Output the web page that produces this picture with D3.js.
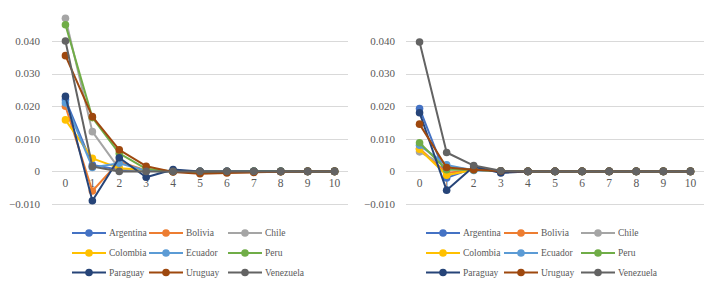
<!DOCTYPE html>
<html>
<head>
<meta charset="utf-8">
<script src="https://cdn.jsdelivr.net/npm/d3@7"></script>
<style>
  body { margin: 0; background: #fff; }
  svg text { font-family: "Liberation Serif", "Times New Roman", serif; }
</style>
</head>
<body>
<div id="chart"></div>
<script>
// ---------- data ----------
const lags = [0, 1, 2, 3, 4, 5, 6, 7, 8, 9, 10];
const countries = ["Argentina", "Bolivia", "Chile", "Colombia", "Ecuador", "Peru", "Paraguay", "Uruguay", "Venezuela"];
const colors = ["#4472C4", "#ED7D31", "#A5A5A5", "#FFC000", "#5B9BD5", "#70AD47", "#264478", "#9E480E", "#636363"];
const yTicks = [-0.010, 0, 0.010, 0.020, 0.030, 0.040];

// left panel
const leftArgentina = [0.0220, 0.0020, 0.0005, 0.0002, 0, 0, 0, 0, 0, 0, 0];
const leftBolivia   = [0.0200, -0.0060, 0.0030, 0.0003, 0, -0.0003, -0.0002, 0, 0, 0, 0];
const leftChile     = [0.0470, 0.0122, 0.0008, 0.0002, 0, 0, 0, 0, 0, 0, 0];
const leftColombia  = [0.0158, 0.0040, 0.0010, 0.0005, 0, 0, 0, 0, 0, 0, 0];
const leftEcuador   = [0.0210, 0.0012, 0.0025, 0.0002, 0, 0, 0, 0, 0, 0, 0];
const leftPeru      = [0.0450, 0.0165, 0.0055, 0.0008, 0, -0.0003, -0.0002, 0, 0, 0, 0];
const leftParaguay  = [0.0230, -0.0090, 0.0042, -0.0018, 0.0006, 0, 0, 0, 0, 0, 0];
const leftUruguay   = [0.0355, 0.0168, 0.0066, 0.0016, -0.0002, -0.0007, -0.0005, -0.0003, -0.0001, 0, 0];
const leftVenezuela = [0.0400, 0.0015, 0.0000, 0.0000, 0, 0, 0, 0, 0, 0, 0];

// right panel
const rightArgentina = [0.0193, -0.0020, 0.0010, 0.0001, 0, 0, 0, 0, 0, 0, 0];
const rightBolivia   = [0.0070, -0.0005, 0.0005, 0.0001, 0, 0, 0, 0, 0, 0, 0];
const rightChile     = [0.0060, 0.0015, 0.0005, 0.0001, 0, 0, 0, 0, 0, 0, 0];
const rightColombia  = [0.0068, -0.0012, 0.0005, 0.0001, 0, 0, 0, 0, 0, 0, 0];
const rightEcuador   = [0.0080, 0.0020, 0.0003, 0.0001, 0, 0, 0, 0, 0, 0, 0];
const rightPeru      = [0.0088, 0.0005, 0.0005, 0.0001, 0, 0, 0, 0, 0, 0, 0];
const rightParaguay  = [0.0180, -0.0058, 0.0015, -0.0005, 0, 0, 0, 0, 0, 0, 0];
const rightUruguay   = [0.0145, 0.0012, 0.0005, 0.0001, 0, 0, 0, 0, 0, 0, 0];
const rightVenezuela = [0.0397, 0.0058, 0.0018, 0.0002, 0, 0, 0, 0, 0, 0, 0];

const leftSeries = [leftArgentina, leftBolivia, leftChile, leftColombia, leftEcuador, leftPeru, leftParaguay, leftUruguay, leftVenezuela];
const rightSeries = [rightArgentina, rightBolivia, rightChile, rightColombia, rightEcuador, rightPeru, rightParaguay, rightUruguay, rightVenezuela];

// ---------- layout ----------
const width = 718, height = 289;
const textColor = "#595959";

const svg = d3.select("#chart").append("svg")
  .attr("width", width)
  .attr("height", height);

svg.append("rect").attr("width", width).attr("height", height).attr("fill", "#fff");

function drawPanel(series, opt) {
  const g = svg.append("g");

  const x = d3.scaleBand().domain(lags).range([opt.x0, opt.x1]);
  const y = d3.scaleLinear().domain([-0.010, 0.040]).range([204, 41]);
  const cx = d => x(d) + x.bandwidth() / 2;

  // gridlines
  g.selectAll(".grid").data(yTicks).enter().append("line")
    .attr("x1", opt.x0).attr("x2", opt.x1)
    .attr("y1", d => Math.round(y(d)) + 0.5).attr("y2", d => Math.round(y(d)) + 0.5)
    .attr("stroke", "#d9d9d9").attr("stroke-width", 1);

  // y labels
  g.selectAll(".ylab").data(yTicks).enter().append("text")
    .attr("x", opt.yLabelX)
    .attr("y", d => y(d))
    .attr("dy", "0.35em")
    .attr("text-anchor", "end")
    .attr("font-size", 11).attr("fill", textColor)
    .text(d => d === 0 ? "0" : (d < 0 ? "\u22120.010" : d3.format(".3f")(d)));

  // x labels
  g.selectAll(".xlab").data(lags).enter().append("text")
    .attr("x", d => cx(d))
    .attr("y", y(0) + 12)
    .attr("dy", "0.35em")
    .attr("text-anchor", "middle")
    .attr("font-size", 11.5).attr("fill", textColor)
    .text(d => d);

  const line = d3.line().x((d, i) => cx(lags[i])).y(d => y(d));

  series.forEach((vals, k) => {
    g.append("path")
      .attr("d", line(vals))
      .attr("fill", "none")
      .attr("stroke", colors[k])
      .attr("stroke-width", 2)
      .attr("stroke-linejoin", "round");
    g.selectAll(null).data(vals).enter().append("circle")
      .attr("cx", (d, i) => cx(lags[i]))
      .attr("cy", d => y(d))
      .attr("r", 3.8)
      .attr("fill", colors[k]);
  });

  // legend
  const rowY = [233, 253, 272.5];
  countries.forEach((c, k) => {
    const lx = opt.legendX[k % 3];
    const ly = rowY[Math.floor(k / 3)];
    g.append("line")
      .attr("x1", lx).attr("x2", lx + 34)
      .attr("y1", ly).attr("y2", ly)
      .attr("stroke", colors[k]).attr("stroke-width", 2);
    g.append("circle")
      .attr("cx", lx + 17).attr("cy", ly).attr("r", 3.8)
      .attr("fill", colors[k]);
    g.append("text")
      .attr("x", lx + 37).attr("y", ly)
      .attr("dy", "0.35em")
      .attr("font-size", 9.5).attr("fill", textColor)
      .text(c);
  });
}

drawPanel(leftSeries, { x0: 52, x1: 348, yLabelX: 40, legendX: [72, 149, 228] });
drawPanel(rightSeries, { x0: 406, x1: 704, yLabelX: 395, legendX: [426, 504, 581] });
</script>
</body>
</html>
